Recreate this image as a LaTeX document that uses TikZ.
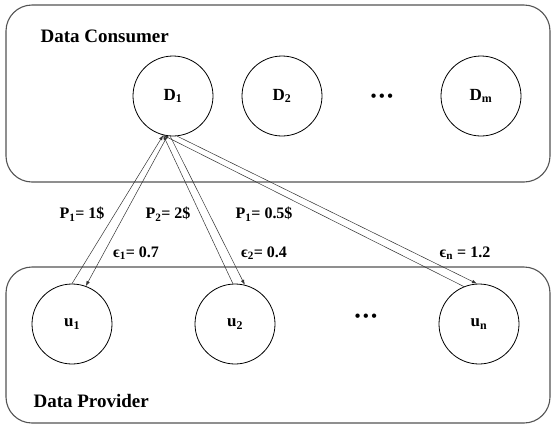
\documentclass[tikz,border=0pt]{standalone}
\usepackage{fontspec}
\setmainfont{Liberation Serif}
\usetikzlibrary{arrows.meta}

\begin{document}
\begin{tikzpicture}[x=1pt, y=-1pt,
    font=\bfseries\fontsize{16}{18}\selectfont,
    party/.style={draw, gray!65!black, line width=1.1pt, rounded corners=26pt},
    agent/.style={draw, circle, minimum size=80pt, inner sep=0pt, line width=0.8pt,
                  font=\bfseries\fontsize{17}{18}\selectfont},
    title/.style={anchor=base west, font=\bfseries\fontsize{19}{20}\selectfont},
    ask/.style={-{Latex[length=5pt, width=3.5pt]}, gray!40!black, line width=0.5pt},
    lbl/.style={inner sep=0pt},
  ]
  \useasboundingbox (0,0) rectangle (552,424);

  % --- consumer side ---
  \draw[party] (6,5) rectangle (550,182);
  \node[title] (cons) at (37,42) {Data Consumer};
  \node[agent] (D1) at (173,96) {D\textsubscript{1}};
  \node[agent] (D2) at (282,96) {D\textsubscript{2}};
  \node (ddots) at (382,98) {\textbullet\,\textbullet\,\textbullet};
  \node[agent] (Dm) at (481,96) {D\textsubscript{m}};

  % --- provider side ---
  \draw[party] (6,267) rectangle (550,423);
  \node[title] (prov) at (30,407) {Data Provider};
  \node[agent] (u1) at (72,324) {u\textsubscript{1}};
  \node[agent] (u2) at (235,324) {u\textsubscript{2}};
  \node (udots) at (366,318) {\textbullet\,\textbullet\,\textbullet};
  \node[agent] (un) at (479,324) {u\textsubscript{n}};

  % offers up, budgets down
  \draw[ask] (u1.90)  -- (D1.256);
  \draw[ask] (D1.262) -- (u1.70);
  \draw[ask] (u2.93)  -- (D1.256);
  \draw[ask] (D1.266) -- (u2.76);
  \draw[ask] (un.112) -- (D1.256);
  \draw[ask] (D1.276) -- (un.93);

  \node[lbl] (p1) at (82,214)  {P\textsubscript{1}= 1\$};
  \node[lbl] (p2) at (168,214) {P\textsubscript{2}= 2\$};
  \node[lbl] (p3) at (264,214) {P\textsubscript{1}= 0.5\$};
  \node[lbl] (e1) at (136,253) {ϵ\textsubscript{1}= 0.7};
  \node[lbl] (e2) at (264,253) {ϵ\textsubscript{2}= 0.4};
  \node[lbl] (en) at (465,253) {ϵ\textsubscript{n} = 1.2};
\end{tikzpicture}
\end{document}
